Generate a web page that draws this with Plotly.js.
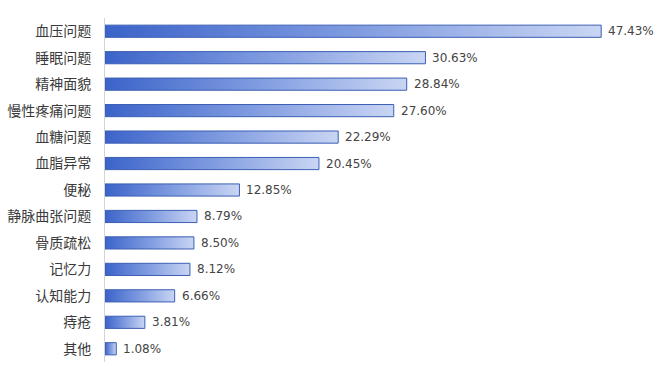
<!DOCTYPE html>
<html><head><meta charset="utf-8">
<script src="https://cdn.plot.ly/plotly-3.0.1.min.js"></script>
<style>html,body{margin:0;padding:0;background:#fff}#chart{width:660px;height:380px}</style>
</head><body><div id="chart"></div>
<script>
const categories = ["血压问题","睡眠问题","精神面貌","慢性疼痛问题","血糖问题","血脂异常","便秘","静脉曲张问题","骨质疏松","记忆力","认知能力","痔疮","其他"];
const values = [47.43,30.63,28.84,27.60,22.29,20.45,12.85,8.79,8.50,8.12,6.66,3.81,1.08];

const half = 0.23;
const traces = values.map((v, i) => ({
  type: 'scatter', mode: 'lines', fill: 'toself',
  x: [0, v, v, 0, 0],
  y: [i - half, i - half, i + half, i + half, i - half],
  line: {color: '#3c5fb4', width: 1},
  fillgradient: {type: 'horizontal', colorscale: [[0, '#3b63c9'], [0.5, '#7f9be0'], [1, '#c9d5f3']]},
  hoverinfo: 'skip', showlegend: false
}));

const annotations = values.map((v, i) => ({
  x: v, y: i, xref: 'x', yref: 'y', text: v.toFixed(2) + '%',
  showarrow: false, xanchor: 'left', xshift: 5,
  font: {family: 'DejaVu Sans, Verdana, sans-serif', size: 12, color: '#444'}
}));

const layout = {
  width: 660, height: 380,
  margin: {l: 105, r: 11, t: 18, b: 18},
  paper_bgcolor: '#fff', plot_bgcolor: '#fff',
  showlegend: false,
  xaxis: {range: [0, 52], showgrid: false, zeroline: false, showticklabels: false, showline: false, fixedrange: true},
  yaxis: {range: [12.5, -0.5], tickmode: 'array', tickvals: categories.map((c, i) => i), ticktext: categories,
    showgrid: false, zeroline: false, showline: true, linecolor: '#d4d4d4', linewidth: 1, ticks: '', ticklen: 0,
    ticklabelstandoff: 10,
    tickfont: {family: 'Noto Sans CJK SC, sans-serif', size: 14, color: '#3a3a3a'}, automargin: false},
  annotations: annotations
};

Plotly.newPlot('chart', traces, layout, {displayModeBar: false, staticPlot: true});
</script></body></html>
